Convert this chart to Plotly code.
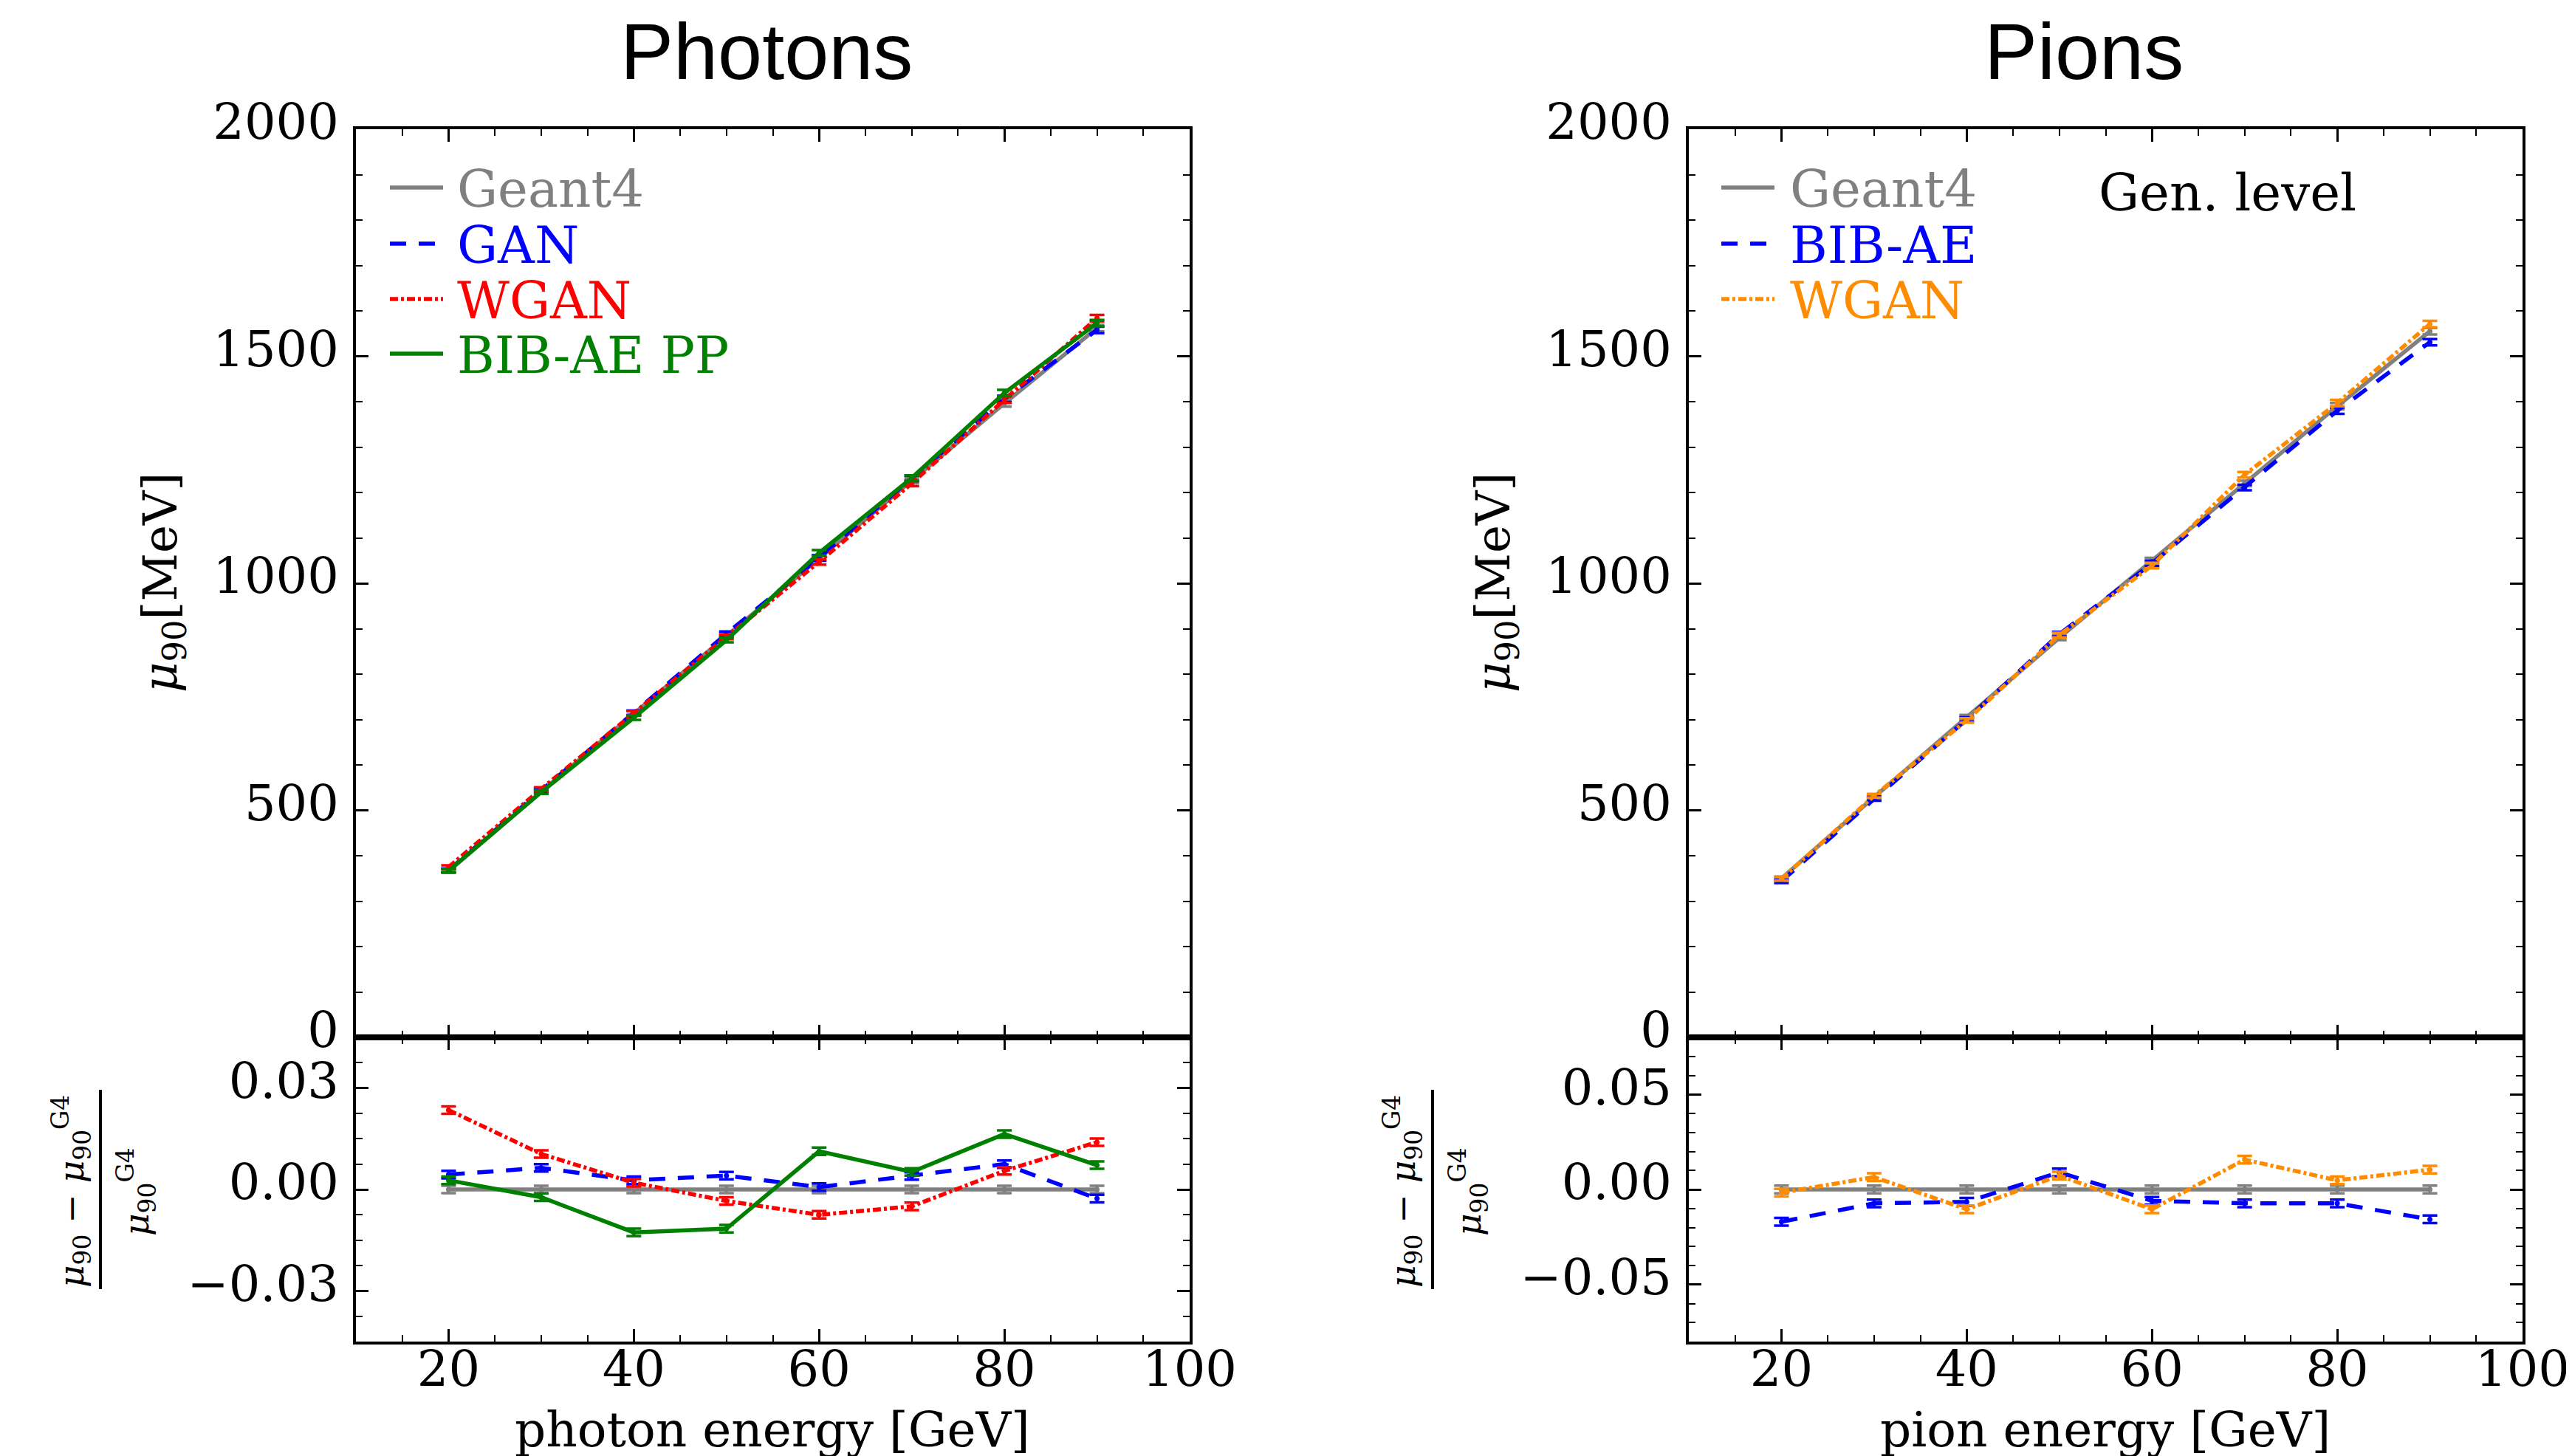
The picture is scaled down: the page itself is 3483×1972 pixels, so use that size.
import plotly.graph_objects as go

# ---------------- data ----------------
energies = [20, 30, 40, 50, 60, 70, 80, 90]

# Photons: mu90 [MeV]
ph_geant4 = [366, 541, 713, 885, 1055, 1226, 1396, 1562]
ph_gan = [368, 544, 715, 889, 1056, 1231, 1406, 1558]
ph_wgan = [375, 547, 714, 882, 1047, 1220, 1404, 1584]
ph_bibae = [367, 540, 704, 875, 1067, 1232, 1419, 1573]
ph_err = [4, 4, 5, 5, 6, 6, 7, 7]

# Photons: relative difference to Geant4
ph_r_geant4 = [0.0, 0.0, 0.0, 0.0, 0.0, 0.0, 0.0, 0.0]
ph_r_gan = [0.0044, 0.0064, 0.0027, 0.0041, 0.0007, 0.0040, 0.0075, -0.0027]
ph_r_wgan = [0.0235, 0.0105, 0.0020, -0.0034, -0.0075, -0.0050, 0.0055, 0.0140]
ph_r_bibae = [0.0027, -0.0023, -0.0127, -0.0116, 0.0113, 0.0052, 0.0164, 0.0072]
ph_r_err = [0.0011, 0.0011, 0.0011, 0.0011, 0.0011, 0.0011, 0.0011, 0.0011]

# Pions: mu90 [MeV]
pi_geant4 = [350, 529, 705, 880, 1050, 1220, 1390, 1555]
pi_bibae = [344, 525, 700, 888, 1044, 1211, 1380, 1531]
pi_wgan = [349, 532, 698, 886, 1039, 1239, 1397, 1571]
pi_err = [4, 4, 5, 5, 6, 6, 7, 7]

# Pions: relative difference to Geant4
pi_r_geant4 = [0.0, 0.0, 0.0, 0.0, 0.0, 0.0, 0.0, 0.0]
pi_r_bibae = [-0.0170, -0.0073, -0.0065, 0.0090, -0.0060, -0.0073, -0.0073, -0.0157]
pi_r_wgan = [-0.0017, 0.0065, -0.0104, 0.0073, -0.0104, 0.0157, 0.0048, 0.0104]
pi_r_err = [0.0020, 0.0020, 0.0020, 0.0020, 0.0020, 0.0020, 0.0020, 0.0020]

x_ticks = [20, 40, 60, 80, 100]
y_ticks_top = [0, 500, 1000, 1500, 2000]
y_ticks_ph_ratio = [-0.03, 0.0, 0.03]
y_ticks_pi_ratio = [-0.05, 0.0, 0.05]

ph_legend_names = ["Geant4", "GAN", "WGAN", "BIB-AE PP"]
pi_legend_names = ["Geant4", "BIB-AE", "WGAN"]

# ---------------- styles ----------------
GRAY = "#808080"
BLUE = "#0000FF"
RED = "#FF0000"
GREEN = "#008000"
ORANGE = "#FF8C00"
SERIF = "DejaVu Serif, Liberation Serif, serif"
SANS = "Liberation Sans, Arial, Helvetica, sans-serif"

DASH = "22px,17px"
DASHDOT = "11px,4px,4px,4px"
LW = 5.5

W, H = 3483, 1972
def px_x(p):
    return p / W
def px_y(p):
    return 1 - p / H

LX = [px_x(474), px_x(1603)]
RX = [px_x(2279), px_x(3408)]
TOPY = [px_y(1397), px_y(167)]
BOTY = [px_y(1809), px_y(1397)]

fig = go.Figure()

def add(x, y, err, color, dash, width, xa, ya, name):
    fig.add_trace(go.Scatter(
        x=x, y=y, mode="lines+markers",
        line=dict(color=color, width=width, dash=dash),
        marker=dict(color=color, size=7),
        error_y=dict(type="data", array=err, visible=True, color=color,
                     thickness=3.5, width=10),
        xaxis=xa, yaxis=ya, name=name, showlegend=False,
    ))

# Photons top
add(energies, ph_geant4, ph_err, GRAY, "solid", LW, "x", "y", "Geant4")
add(energies, ph_gan, ph_err, BLUE, DASH, LW, "x", "y", "GAN")
add(energies, ph_wgan, ph_err, RED, DASHDOT, LW, "x", "y", "WGAN")
add(energies, ph_bibae, ph_err, GREEN, "solid", LW, "x", "y", "BIB-AE PP")
# Photons ratio
add(energies, ph_r_geant4, ph_r_err, GRAY, "solid", LW, "x2", "y2", "Geant4")
add(energies, ph_r_gan, ph_r_err, BLUE, DASH, LW, "x2", "y2", "GAN")
add(energies, ph_r_wgan, ph_r_err, RED, DASHDOT, LW, "x2", "y2", "WGAN")
add(energies, ph_r_bibae, ph_r_err, GREEN, "solid", LW, "x2", "y2", "BIB-AE PP")
# Pions top
add(energies, pi_geant4, pi_err, GRAY, "solid", LW, "x3", "y3", "Geant4")
add(energies, pi_bibae, pi_err, BLUE, DASH, LW, "x3", "y3", "BIB-AE")
add(energies, pi_wgan, pi_err, ORANGE, DASHDOT, LW, "x3", "y3", "WGAN")
# Pions ratio
add(energies, pi_r_geant4, pi_r_err, GRAY, "solid", LW, "x4", "y4", "Geant4")
add(energies, pi_r_bibae, pi_r_err, BLUE, DASH, LW, "x4", "y4", "BIB-AE")
add(energies, pi_r_wgan, pi_r_err, ORANGE, DASHDOT, LW, "x4", "y4", "WGAN")

tickfont = dict(family=SERIF, size=67, color="black")

def xaxis(domain, anchor, labels):
    return dict(domain=domain, anchor=anchor, range=[10, 100], tickvals=x_ticks,
                showticklabels=labels, ticks="inside", ticklen=17, tickwidth=2.5,
                tickcolor="black", showline=True, linecolor="black", linewidth=3.5,
                mirror="ticks", showgrid=False, zeroline=False, tickfont=tickfont,
                minor=dict(ticks="inside", dtick=5, tick0=0, ticklen=9, tickwidth=2,
                           tickcolor="black", showgrid=False),
                automargin=False, ticklabelstandoff=-24)

def yaxis(domain, anchor, rng, vals, texts, minor_dtick):
    return dict(domain=domain, anchor=anchor, range=rng, tickvals=vals, ticktext=texts,
                ticks="inside", ticklen=17, tickwidth=2.5, tickcolor="black",
                showline=True, linecolor="black", linewidth=3.5, mirror="ticks",
                showgrid=False, zeroline=False, tickfont=tickfont,
                minor=dict(ticks="inside", dtick=minor_dtick, tick0=0, ticklen=9,
                           tickwidth=2, tickcolor="black", showgrid=False),
                automargin=False, ticklabelstandoff=6, ticklabelshift=-10)

top_texts = [str(v) for v in y_ticks_top]
ph_r_texts = ["\u22120.03", "0.00", "0.03"]
pi_r_texts = ["\u22120.05", "0.00", "0.05"]

fig.update_layout(
    width=W, height=H,
    margin=dict(l=0, r=0, t=0, b=0),
    paper_bgcolor="white", plot_bgcolor="white",
    xaxis=xaxis(LX, "y", False),
    yaxis=yaxis(TOPY, "x", [0, 2000], y_ticks_top, top_texts, 100),
    xaxis2=xaxis(LX, "y2", True),
    yaxis2=yaxis(BOTY, "x2", [-0.045, 0.045], y_ticks_ph_ratio, ph_r_texts, 0.0075),
    xaxis3=xaxis(RX, "y3", False),
    yaxis3=yaxis(TOPY, "x3", [0, 2000], y_ticks_top, top_texts, 100),
    xaxis4=xaxis(RX, "y4", True),
    yaxis4=yaxis(BOTY, "x4", [-0.08, 0.08], y_ticks_pi_ratio, pi_r_texts, 0.01),
    showlegend=False,
)

annotations = [
    dict(text="Photons", x=px_x(1030), y=1, yanchor="top", height=118,
         font=dict(family=SANS, size=108, color="black")),
    dict(text="Pions", x=px_x(2814), y=1, yanchor="top", height=118,
         font=dict(family=SANS, size=108, color="black")),
    dict(text="photon energy [GeV]", x=px_x(1038), y=px_y(1928), font=dict(family=SERIF, size=66, color="black")),
    dict(text="pion energy [GeV]", x=px_x(2843), y=px_y(1928), font=dict(family=SERIF, size=66, color="black")),
    dict(text="<i>μ</i><sub>90</sub>[MeV]", x=px_x(213), y=px_y(781), textangle=-90,
         font=dict(family=SERIF, size=64, color="black")),
    dict(text="<i>μ</i><sub>90</sub>[MeV]", x=px_x(2018), y=px_y(781), textangle=-90,
         font=dict(family=SERIF, size=64, color="black")),
    dict(text="<i>μ</i><sub>90</sub> − <i>μ</i><sub>90</sub><sup>G4</sup>", x=px_x(88), y=px_y(1606),
         textangle=-90, font=dict(family=SERIF, size=47, color="black")),
    dict(text="<i>μ</i><sub>90</sub><sup>G4</sup>", x=px_x(176), y=px_y(1606),
         textangle=-90, font=dict(family=SERIF, size=47, color="black")),
    dict(text="<i>μ</i><sub>90</sub> − <i>μ</i><sub>90</sub><sup>G4</sup>", x=px_x(1891), y=px_y(1606),
         textangle=-90, font=dict(family=SERIF, size=47, color="black")),
    dict(text="<i>μ</i><sub>90</sub><sup>G4</sup>", x=px_x(1980), y=px_y(1606),
         textangle=-90, font=dict(family=SERIF, size=47, color="black")),
    dict(text="Gen. level", x=px_x(2832), y=px_y(253), xanchor="left",
         font=dict(family=SERIF, size=69, color="black")),
]

shapes = [
    dict(type="line", xref="paper", yref="paper", x0=px_x(128), x1=px_x(128),
         y0=px_y(1468), y1=px_y(1738), line=dict(color="black", width=4)),
    dict(type="line", xref="paper", yref="paper", x0=px_x(1932), x1=px_x(1932),
         y0=px_y(1468), y1=px_y(1738), line=dict(color="black", width=4)),
]

# manual legends (lines + coloured text)
legend_rows = [250, 326, 401, 475]
def legend(names, colors, dashes, line_x0, line_x1, text_x):
    for i, (n, c, d) in enumerate(zip(names, colors, dashes)):
        yy = legend_rows[i]
        shapes.append(dict(type="line", xref="paper", yref="paper",
                           x0=px_x(line_x0), x1=px_x(line_x1), y0=px_y(yy - 4), y1=px_y(yy - 4),
                           line=dict(color=c, width=LW, dash=d)))
        annotations.append(dict(text=n, x=px_x(text_x), y=px_y(yy - 2), xanchor="left",
                                font=dict(family=SERIF, size=69, color=c)))

legend(ph_legend_names, [GRAY, BLUE, RED, GREEN], ["solid", DASH, DASHDOT, "solid"], 520, 592, 609)
legend(pi_legend_names, [GRAY, BLUE, ORANGE], ["solid", DASH, DASHDOT], 2323, 2395, 2414)

for a in annotations:
    a.setdefault("xanchor", "center")
    a.setdefault("yanchor", "middle")
    a.update(xref="paper", yref="paper", showarrow=False)

fig.update_layout(annotations=annotations, shapes=shapes)

fig.write_html("out.html")
